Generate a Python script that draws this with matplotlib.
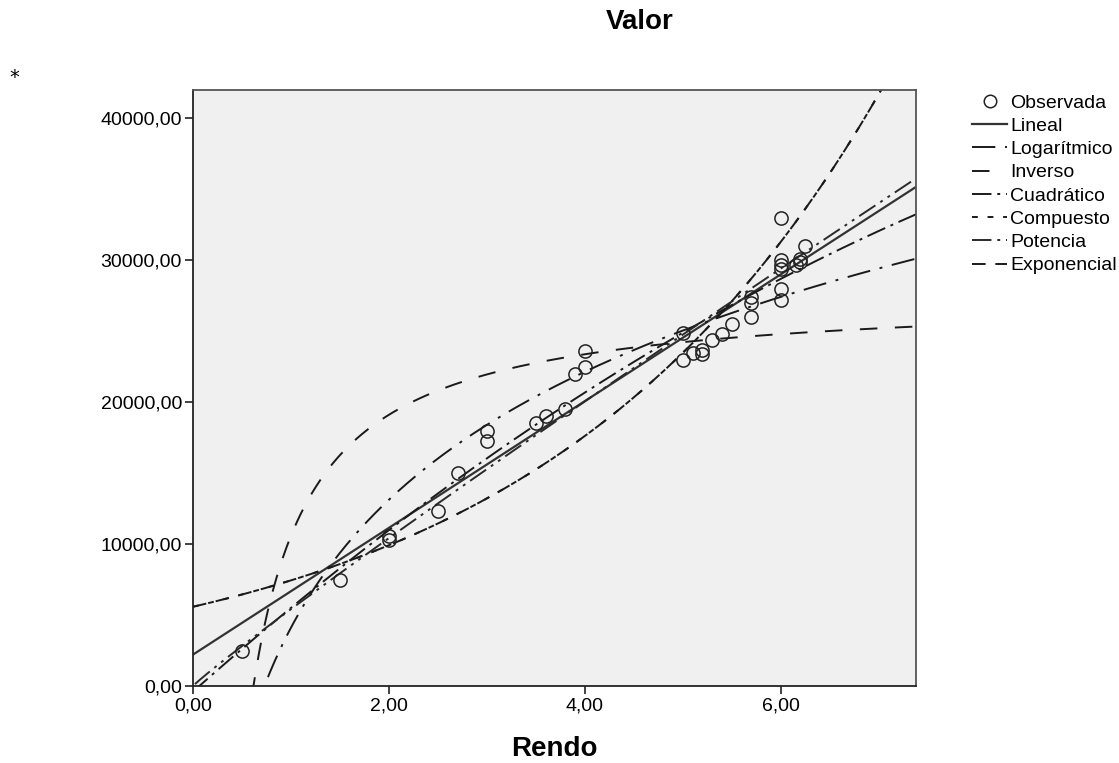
import numpy as np
import matplotlib
matplotlib.use("Agg")
import matplotlib.pyplot as plt
from matplotlib.lines import Line2D

plt.rcParams['font.family'] = ['Liberation Sans', 'DejaVu Sans']

# Observed data (Rendo vs Valor)
rendo = [0.5, 1.5, 2.0, 2.0, 2.5, 2.7, 3.0, 3.0, 3.5, 3.6, 3.8, 3.9, 4.0, 4.0,
         5.0, 5.0, 5.1, 5.2, 5.2, 5.3, 5.4, 5.5, 5.7, 5.7, 5.7,
         6.0, 6.0, 6.0, 6.0, 6.0, 6.0, 6.15, 6.2, 6.2, 6.25]
valor = [2500, 7500, 10600, 10300, 12300, 15000, 18000, 17300, 18500, 19000, 19500, 22000, 22500, 23600,
         24900, 23000, 23500, 23700, 23400, 24400, 24800, 25500, 26000, 27000, 27400,
         33000, 30000, 29700, 29400, 28000, 27200, 29700, 29900, 30100, 31000]

x_ticks = [0, 2, 4, 6]
y_ticks = [0, 10000, 20000, 30000, 40000]
legend_labels = ["Observada", "Lineal", "Logarítmico", "Inverso", "Cuadrático",
                 "Compuesto", "Potencia", "Exponencial"]

x = np.array(rendo, dtype=float)
y = np.array(valor, dtype=float)
xmax = 7.38
ymax = 42000

# Curve estimations (least-squares fits, as in the original curve-fit output)
lin = np.polyfit(x, y, 1)
logc = np.polyfit(np.log(x), y, 1)
inv = np.polyfit(1.0 / x, y, 1)
quad = np.polyfit(x, y, 2)
expc = np.polyfit(x, np.log(y), 1)
powc = np.polyfit(np.log(x), np.log(y), 1)

xs = np.linspace(0.0, xmax, 600)
xp = np.linspace(0.02, xmax, 2000)

fig = plt.figure(figsize=(11.19, 7.63), dpi=100)
ax = fig.add_axes([193/1119, 1-686/763, (916-193)/1119, (686-90)/763])
ax.set_facecolor('#f0f0f0')

k = '#1a1a1a'
lw = 1.4
st_lin = dict(color='#333333', lw=1.6, ls='-')
st_log = dict(color=k, lw=lw, dashes=(12, 5, 1.5, 5))
st_inv = dict(color=k, lw=lw, dashes=(9, 9))
st_quad = dict(color=k, lw=lw, dashes=(10, 3, 1.5, 3))
st_comp = dict(color=k, lw=lw, dashes=(3, 5))
st_pow = dict(color='#2a2a2a', lw=lw, dashes=(10, 3, 1.5, 3, 1.5, 3))
st_exp = dict(color=k, lw=lw, dashes=(7, 5))

ax.plot(xs, np.polyval(lin, xs), **st_lin)
ax.plot(xp, np.polyval(logc, np.log(xp)), **st_log)
ax.plot(xp, np.polyval(inv, 1.0 / xp), **st_inv)
ax.plot(xs, np.polyval(quad, xs), **st_quad)
ax.plot(xs, np.exp(np.polyval(expc, xs)), **st_comp)
ax.plot(xp, np.exp(np.polyval(powc, np.log(xp))), **st_pow)
ax.plot(xs, np.exp(np.polyval(expc, xs)), **st_exp)

ax.plot(x, y, ls='none', marker='o', markersize=9.5, markerfacecolor='none',
        markeredgecolor='#222222', markeredgewidth=1.1)

ax.set_xlim(0, xmax)
ax.set_ylim(0, ymax)
ax.set_xticks(x_ticks)
ax.set_xticklabels([f"{v:.2f}".replace('.', ',') for v in x_ticks], fontsize=14)
ax.set_yticks(y_ticks)
ax.set_yticklabels([f"{v:.2f}".replace('.', ',') for v in y_ticks], fontsize=14)
ax.tick_params(direction='out', length=6, width=1.2, color='#222222', pad=2)
for s in ['left', 'bottom']:
    ax.spines[s].set_color('#222222')
    ax.spines[s].set_linewidth(1.3)
for s in ['top', 'right']:
    ax.spines[s].set_color('#555555')
    ax.spines[s].set_linewidth(1.3)

ax.set_xlabel("Rendo", fontsize=20, fontweight='bold', labelpad=16)
fig.text(640/1119, 1-22/763, "Valor", fontsize=20, fontweight='bold', ha='center', va='center')
fig.text(14/1119, 1-77/763, "*", fontsize=14, ha='center', va='center', family='DejaVu Sans')

handles = [
    Line2D([], [], ls='none', marker='o', markersize=9, markerfacecolor='none',
           markeredgecolor='#222222', markeredgewidth=1.1),
    Line2D([], [], **st_lin),
    Line2D([], [], **st_log),
    Line2D([], [], **st_inv),
    Line2D([], [], **st_quad),
    Line2D([], [], **st_comp),
    Line2D([], [], **st_pow),
    Line2D([], [], **st_exp),
]
fig.legend(handles, legend_labels, loc='upper left', bbox_to_anchor=(972/1119, 1-94/763),
           frameon=False, fontsize=14, handlelength=1.8, handletextpad=0.15,
           labelspacing=0.29, borderaxespad=0, borderpad=0)

fig.savefig("out.png", dpi=100, facecolor='white')
